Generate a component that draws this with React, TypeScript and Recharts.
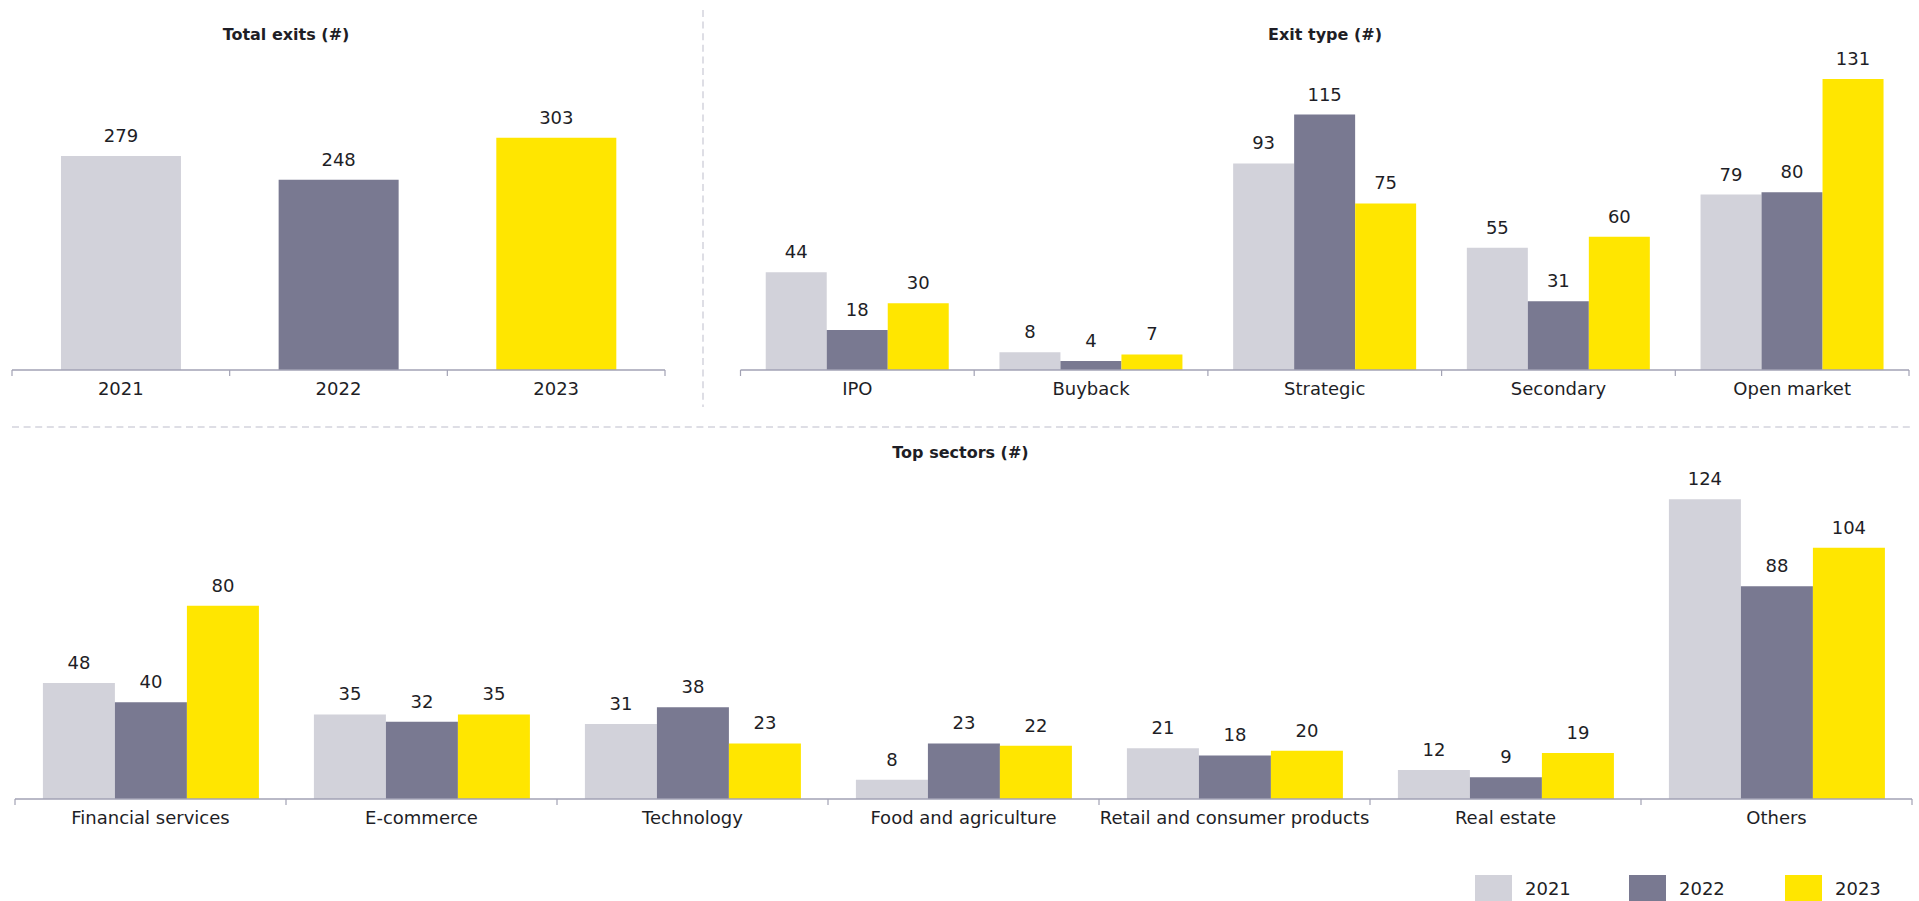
import React from 'react';
import { BarChart, Bar, XAxis, YAxis, LabelList, Cell } from 'recharts';

// ---- data ----
const years = ['2021', '2022', '2023'];
const yearColors = ['#d2d2da', '#797991', '#ffe600'];
const totalExits = [279, 248, 303];

const exitTypes = ['IPO', 'Buyback', 'Strategic', 'Secondary', 'Open market'];
const exit2021 = [44, 8, 93, 55, 79];
const exit2022 = [18, 4, 115, 31, 80];
const exit2023 = [30, 7, 75, 60, 131];

const sectors = [
  'Financial services',
  'E-commerce',
  'Technology',
  'Food and agriculture',
  'Retail and consumer products',
  'Real estate',
  'Others',
];
const sector2021 = [48, 35, 31, 8, 21, 12, 124];
const sector2022 = [40, 32, 38, 23, 18, 9, 88];
const sector2023 = [80, 35, 23, 22, 20, 19, 104];

const titles = ['Total exits (#)', 'Exit type (#)', 'Top sectors (#)'];

// ---- styling ----
const FONT = "'DejaVu Sans', Verdana, sans-serif";
const AXIS = '#a2a2b4';
const TEXT = '#1e1e26';
const DASH = '#d3d3dd';

const totalData = years.map((y, i) => ({ cat: y, value: totalExits[i] }));
const exitData = exitTypes.map((c, i) => ({ cat: c, v2021: exit2021[i], v2022: exit2022[i], v2023: exit2023[i] }));
const sectorData = sectors.map((c, i) => ({ cat: c, v2021: sector2021[i], v2022: sector2022[i], v2023: sector2023[i] }));
const seriesKeys = ['v2021', 'v2022', 'v2023'];

const makeTick = (band: number, count: number) => (props: any) => {
  const { x, y, payload, index } = props;
  return (
    <g>
      <line x1={x - band / 2} x2={x - band / 2} y1={y} y2={y + 6} stroke={AXIS} strokeWidth={1.2} />
      {index === count - 1 && (
        <line x1={x + band / 2} x2={x + band / 2} y1={y} y2={y + 6} stroke={AXIS} strokeWidth={1.2} />
      )}
      <text x={x} y={y + 25} textAnchor="middle" fontFamily={FONT} fontSize={18} fill={TEXT}>
        {payload.value}
      </text>
    </g>
  );
};

const labelProps = { position: 'top' as const, offset: 14, fill: TEXT, fontSize: 18, fontFamily: FONT };

export default function App() {
  const wA = 690, hA = 420;
  const plotA = { left: 12, right: 665, top: 137.7, bottom: 370 };
  const wB = 1219, hB = 420, leftB = 700;
  const plotB = { left: 740.5, right: 1909, top: 79, bottom: 370 };
  const wC = 1919, hC = 420, topC = 430;
  const plotC = { left: 15, right: 1912, top: 499.3, bottom: 799 };

  const bandA = (plotA.right - plotA.left) / years.length;
  const bandB = (plotB.right - plotB.left) / exitTypes.length;
  const bandC = (plotC.right - plotC.left) / sectors.length;

  const maxA = Math.max(...totalExits);
  const maxB = Math.max(...exit2021, ...exit2022, ...exit2023);
  const maxC = Math.max(...sector2021, ...sector2022, ...sector2023);

  const legendSquareX = [1475, 1629, 1785];

  return (
    <div style={{ position: 'absolute', left: 0, top: 0, width: 1919, height: 901, background: '#fff', overflow: 'hidden' }}>
      <svg width={1919} height={901} style={{ position: 'absolute', left: 0, top: 0 }}>
        <line x1={703} x2={703} y1={10} y2={407} stroke={DASH} strokeWidth={1.5} strokeDasharray="7 4.6" />
        <line x1={12} x2={1910} y1={427} y2={427} stroke={DASH} strokeWidth={1.5} strokeDasharray="7 4.6" />
        <text x={286} y={40} textAnchor="middle" fontFamily={FONT} fontWeight="bold" fontSize={16} fill={TEXT}>{titles[0]}</text>
        <text x={1325} y={40} textAnchor="middle" fontFamily={FONT} fontWeight="bold" fontSize={16} fill={TEXT}>{titles[1]}</text>
        <text x={960.5} y={458} textAnchor="middle" fontFamily={FONT} fontWeight="bold" fontSize={16} fill={TEXT}>{titles[2]}</text>
        {years.map((y, i) => (
          <g key={y}>
            <rect x={legendSquareX[i]} y={875} width={37} height={26} fill={yearColors[i]} />
            <text x={legendSquareX[i] + 50} y={895} fontFamily={FONT} fontSize={18} fill={TEXT}>{y}</text>
          </g>
        ))}
      </svg>

      <div style={{ position: 'absolute', left: 0, top: 0 }}>
        <BarChart
          width={wA}
          height={hA}
          data={totalData}
          margin={{ top: plotA.top, left: plotA.left, right: wA - plotA.right, bottom: hA - plotA.bottom - 30 }}
          barCategoryGap="22.5%"
        >
          <XAxis dataKey="cat" height={30} interval={0} tickSize={0} tickMargin={0} tickLine={false}
            axisLine={{ stroke: AXIS, strokeWidth: 1.5 }} tick={makeTick(bandA, years.length)} />
          <YAxis hide domain={[0, maxA]} />
          <Bar dataKey="value" isAnimationActive={false}>
            {totalData.map((d, i) => <Cell key={d.cat} fill={yearColors[i]} />)}
            <LabelList dataKey="value" {...labelProps} />
          </Bar>
        </BarChart>
      </div>

      <div style={{ position: 'absolute', left: leftB, top: 0 }}>
        <BarChart
          width={wB}
          height={hB}
          data={exitData}
          margin={{ top: plotB.top, left: plotB.left - leftB, right: leftB + wB - plotB.right, bottom: hB - plotB.bottom - 30 }}
          barCategoryGap="10.8%"
          barGap={0}
        >
          <XAxis dataKey="cat" height={30} interval={0} tickSize={0} tickMargin={0} tickLine={false}
            axisLine={{ stroke: AXIS, strokeWidth: 1.5 }} tick={makeTick(bandB, exitTypes.length)} />
          <YAxis hide domain={[0, maxB]} />
          {seriesKeys.map((k, i) => (
            <Bar key={k} dataKey={k} fill={yearColors[i]} isAnimationActive={false}>
              <LabelList dataKey={k} {...labelProps} />
            </Bar>
          ))}
        </BarChart>
      </div>

      <div style={{ position: 'absolute', left: 0, top: topC }}>
        <BarChart
          width={wC}
          height={hC}
          data={sectorData}
          margin={{ top: plotC.top - topC, left: plotC.left, right: wC - plotC.right, bottom: hC - (plotC.bottom - topC) - 30 }}
          barCategoryGap="10.3%"
          barGap={0}
        >
          <XAxis dataKey="cat" height={30} interval={0} tickSize={0} tickMargin={0} tickLine={false}
            axisLine={{ stroke: AXIS, strokeWidth: 1.5 }} tick={makeTick(bandC, sectors.length)} />
          <YAxis hide domain={[0, maxC]} />
          {seriesKeys.map((k, i) => (
            <Bar key={k} dataKey={k} fill={yearColors[i]} isAnimationActive={false}>
              <LabelList dataKey={k} {...labelProps} />
            </Bar>
          ))}
        </BarChart>
      </div>
    </div>
  );
}
